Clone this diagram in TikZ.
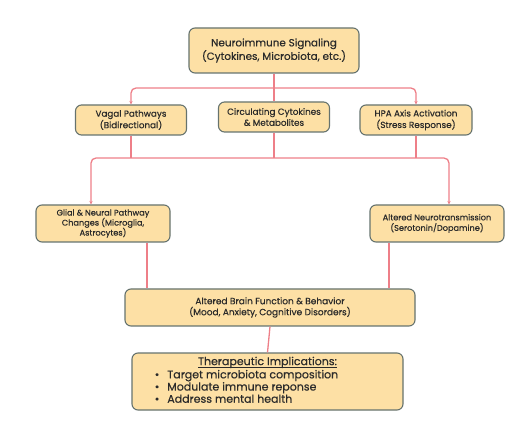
\documentclass[tikz,border=0pt]{standalone}
\usepackage{fontspec}
\setmainfont{Poppins}[FakeBold=0.5]
\usetikzlibrary{arrows.meta}
\definecolor{boxfill}{HTML}{FDE0A5}
\definecolor{boxline}{HTML}{66736E}
\definecolor{conn}{HTML}{EE7F88}
\definecolor{txt}{HTML}{2A2A2A}
\newcommand\myul[1]{\setbox0=\hbox{#1}\rlap{\rule[-2.2pt]{\wd0}{0.8pt}}\box0}
\tikzset{
  box/.style={draw=boxline, fill=boxfill, line width=1.1pt, rounded corners=6pt, align=center, text=txt, inner sep=1pt},
  link/.style={draw=conn, line width=1.3pt, rounded corners=5pt},
  tip/.style={-{Stealth[length=3.5pt,width=3.5pt]}},
}
\begin{document}
\begin{tikzpicture}[x=1pt,y=-1pt]
\useasboundingbox (0,0) rectangle (531,433);
\node[box, minimum width=170pt, minimum height=45pt, font=\fontsize{10.4}{12}\selectfont] (top) at (274,50.5) {Neuroimmune Signaling\\(Cytokines, Microbiota, etc.)};
\node[box, minimum width=111pt, minimum height=30pt, font=\fontsize{8.8}{11.5}\selectfont] (vagal) at (131,120) {Vagal Pathways\\(Bidirectional)};
\node[box, minimum width=111pt, minimum height=30pt, font=\fontsize{8.8}{11}\selectfont] (circ) at (274,117) {Circulating Cytokines\\\& Metabolites};
\node[box, minimum width=112pt, minimum height=30pt, font=\fontsize{8.8}{11.5}\selectfont] (hpa) at (416,120) {HPA Axis Activation\\(Stress Response)};
\node[box, minimum width=134pt, minimum height=37pt, font=\fontsize{8.2}{10}\selectfont] (glial) at (103,223.5) {Glial \& Neural Pathway\\Changes (Microglia,\\Astrocytes)};
\node[box, minimum width=134pt, minimum height=37pt, font=\fontsize{8.2}{10.5}\selectfont] (neuro) at (437,223.5) {Altered Neurotransmission\\(Serotonin/Dopamine)};
\node[box, minimum width=290pt, minimum height=37pt, font=\fontsize{9}{11}\selectfont] (brain) at (270,307.5) {Altered Brain Function \& Behavior\\(Mood, Anxiety, Cognitive Disorders)};
\node[box, minimum width=271pt, minimum height=57pt, font=\fontsize{11}{12.2}\selectfont] (ther) at (267.5,381.5) {\begin{tabular}{@{}c@{}}\myul{Therapeutic Implications:}\\[1pt]
\makebox[0pt][c]{\hspace{-42pt}\begin{tabular}{@{}l@{}}\textbullet\hspace{8pt}Target microbiota composition\\\textbullet\hspace{8pt}Modulate immune reponse\\\textbullet\hspace{8pt}Address mental health\end{tabular}}\end{tabular}};
% level 1 connectors
\coordinate (j1) at (274,88);
\draw[link] (top.south) -- (circ.north);
\draw[link,tip] (j1) -| (vagal.north);
\draw[link,tip] (j1) -| (hpa.north);
% level 2 connectors
\coordinate (j2) at (274,158);
\coordinate (ga) at ([xshift=-12pt]glial.north);
\coordinate (na) at ([xshift=12pt]neuro.north);
\draw[link] (vagal.south) -- (vagal.south |- j2);
\draw[link] (circ.south) -- (circ.south |- j2);
\draw[link] (hpa.south) -- (hpa.south |- j2);
\draw[link,{Stealth[length=3.5pt,width=3.5pt]}-{Stealth[length=3.5pt,width=3.5pt]}] (ga) |- (j2) -| (na);
% level 3
\coordinate (gb) at ([xshift=44pt]glial.south);
\coordinate (nb) at ([xshift=-48pt]neuro.south);
\draw[link] (gb) -- (gb |- brain.north);
\draw[link] (nb) -- (nb |- brain.north);
\draw[link] (brain.south) -- (ther.north);
\end{tikzpicture}
\end{document}
